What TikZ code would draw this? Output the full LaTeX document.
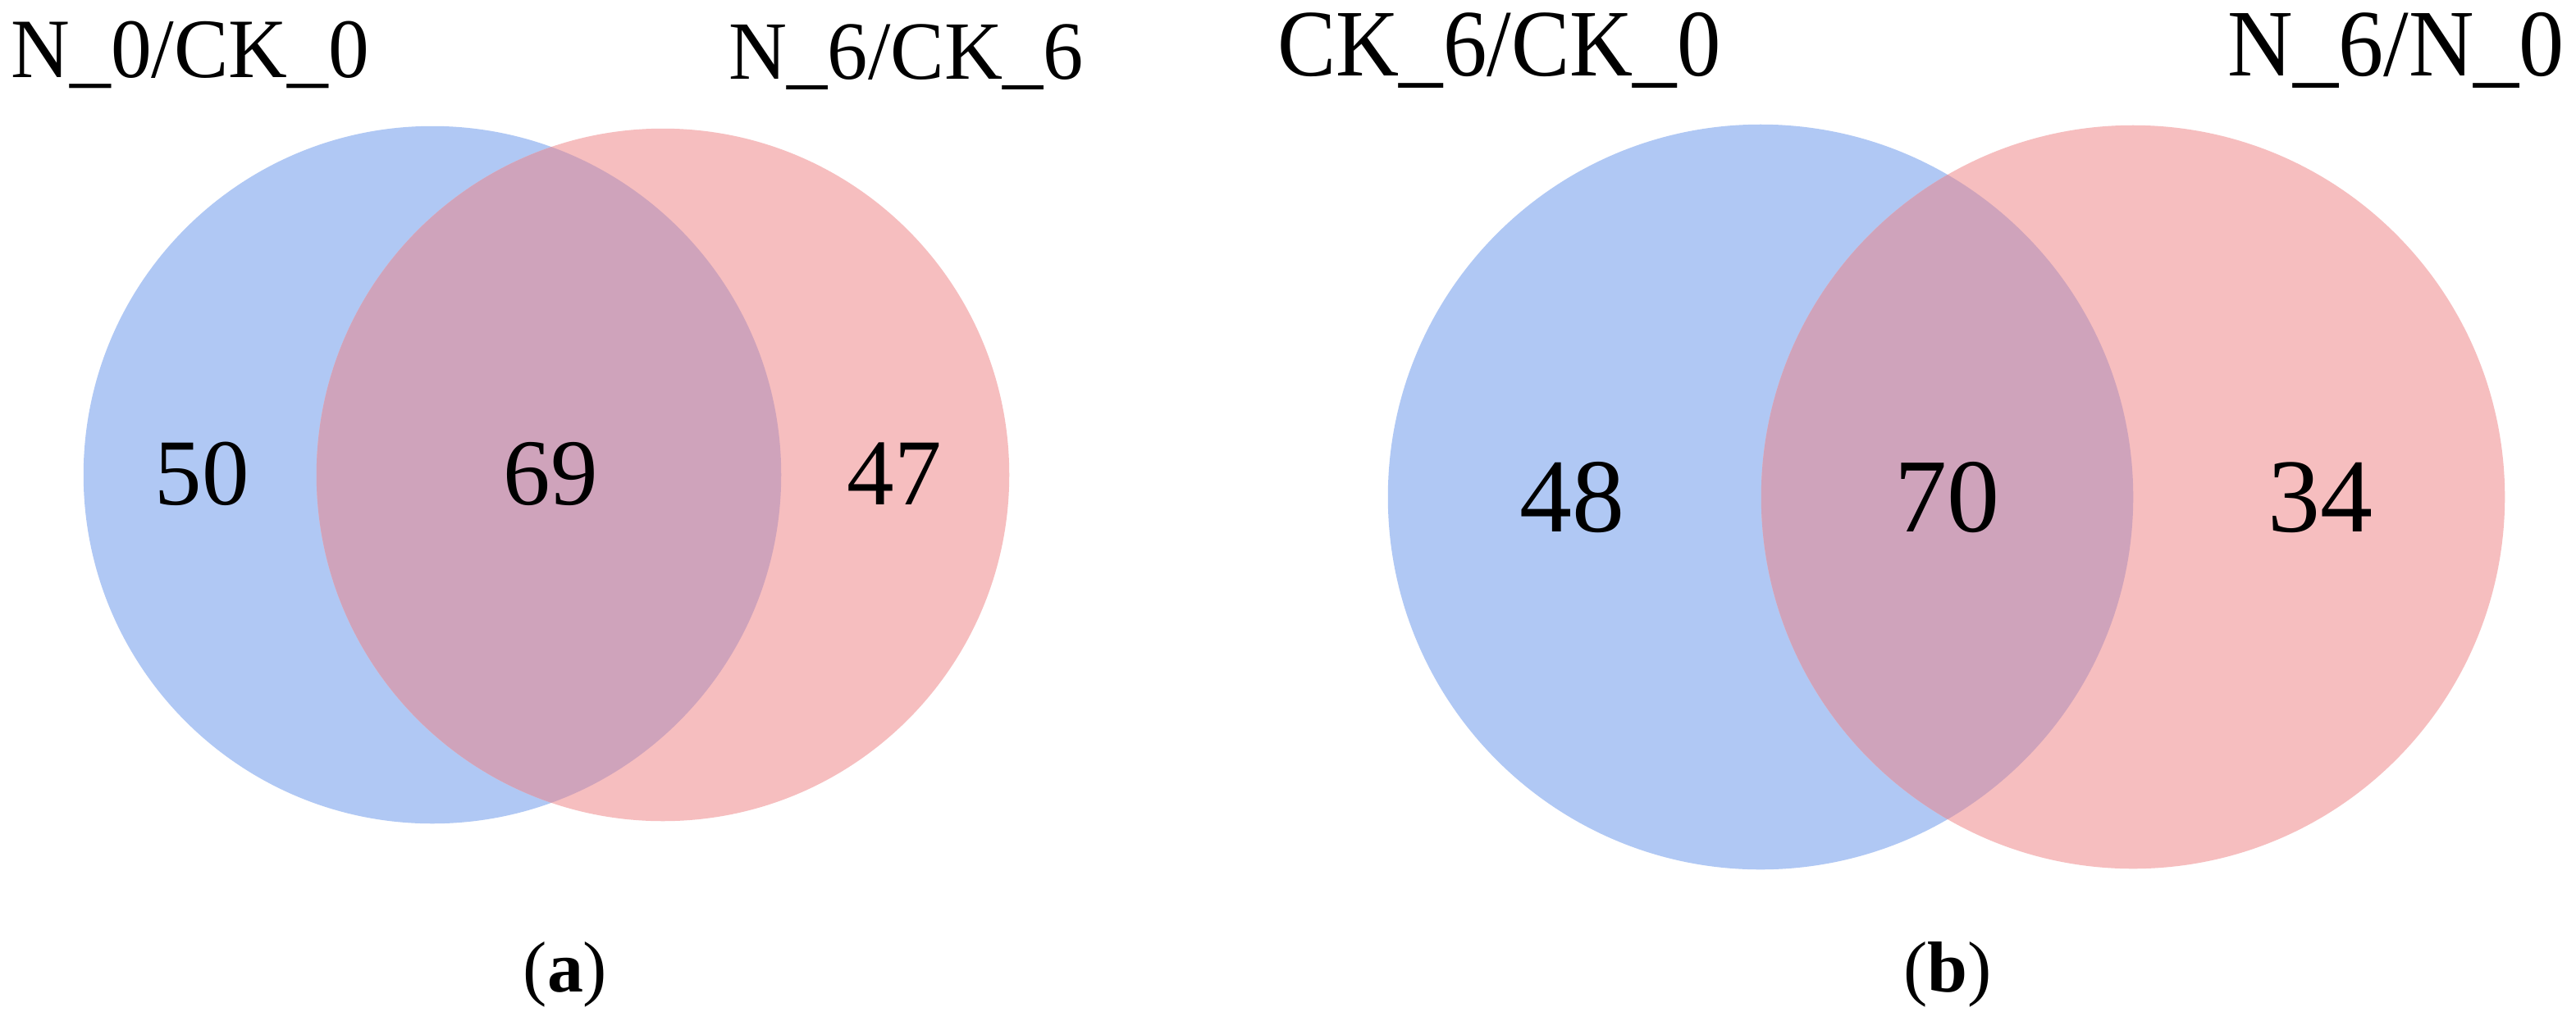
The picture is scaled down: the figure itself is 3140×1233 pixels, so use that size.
\documentclass[tikz,border=0pt]{standalone}
\usepackage{fontspec}
\setmainfont{Liberation Serif}
\definecolor{vblue}{RGB}{176,200,244}
\definecolor{vred}{RGB}{246,190,191}
\definecolor{vmix}{RGB}{207,163,187}
\begin{document}
\begin{tikzpicture}[x=0.01cm,y=-0.01cm,
  setlabel/.style={inner sep=0pt,anchor=base west},
  numl/.style={inner sep=0pt,anchor=center,font=\fontsize{32.7pt}{36pt}\selectfont},
  numr/.style={inner sep=0pt,anchor=center,font=\fontsize{36.4pt}{40pt}\selectfont},
  panelcap/.style={inner sep=0pt,anchor=base,font=\fontsize{25pt}{28pt}\selectfont}]
\useasboundingbox[fill=white] (0,0) rectangle (3140,1233);
% panel (a)
\fill[vblue] (527,579) circle[radius=4.25cm];
\fill[vred] (808,579) circle[radius=4.22cm];
\begin{scope}
  \clip (527,579) circle[radius=4.25cm];
  \fill[vmix] (808,579) circle[radius=4.22cm];
\end{scope}
\node[setlabel,font=\fontsize{29.3pt}{32pt}\selectfont,xscale=0.965] (la) at (13,94) {N\_0/CK\_0};
\node[setlabel,font=\fontsize{28.7pt}{32pt}\selectfont,xscale=0.975] (lb) at (888,96) {N\_6/CK\_6};
\node[numl] (a1) at (246,578) {50};
\node[numl] (a2) at (671,578) {69};
\node[numl] (a3) at (1090,578) {47};
\node[panelcap] (capa) at (689,1209) {(\textbf{a})};
% panel (b)
\fill[vblue] (2146,606) circle[radius=4.54cm];
\fill[vred] (2600,606) circle[radius=4.53cm];
\begin{scope}
  \clip (2146,606) circle[radius=4.54cm];
  \fill[vmix] (2600,606) circle[radius=4.53cm];
\end{scope}
\node[setlabel,font=\fontsize{33pt}{36pt}\selectfont,xscale=0.92] (lc) at (1557,92) {CK\_6/CK\_0};
\node[setlabel,font=\fontsize{33pt}{36pt}\selectfont,xscale=0.95] (ld) at (2715,92) {N\_6/N\_0};
\node[numr] (b1) at (1916,607) {48};
\node[numr] (b2) at (2373,607) {70};
\node[numr] (b3) at (2828,607) {34};
\node[panelcap] (capb) at (2374,1209) {(\textbf{b})};
\end{tikzpicture}
\end{document}
